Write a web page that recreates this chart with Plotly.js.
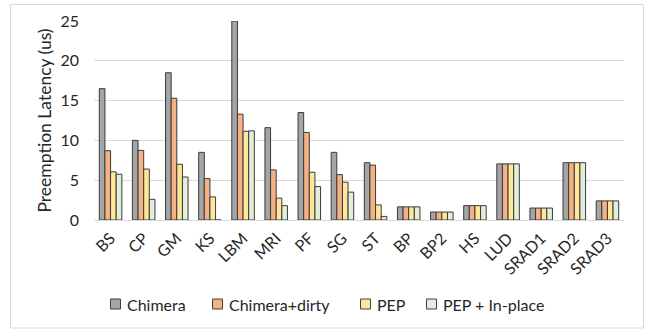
<!DOCTYPE html>
<html>
<head>
<meta charset="utf-8">
<script src="https://cdn.plot.ly/plotly-3.0.1.min.js"></script>
<style>
html,body{margin:0;padding:0;background:#fff;}
#chart{width:647px;height:331px;}
</style>
</head>
<body>
<div id="chart"></div>
<script>
const categories = ["BS","CP","GM","KS","LBM","MRI","PF","SG","ST","BP","BP2","HS","LUD","SRAD1","SRAD2","SRAD3"];
const chimera      = [16.5, 10.0, 18.5, 8.5, 25.0, 11.6, 13.5, 8.5, 7.2, 1.65, 1.0, 1.8, 7.05, 1.5, 7.2, 2.4];
const chimeraDirty = [8.7, 8.75, 15.3, 5.2, 13.3, 6.3, 11.0, 5.7, 6.9, 1.65, 1.0, 1.8, 7.05, 1.5, 7.2, 2.4];
const pep          = [6.05, 6.4, 7.0, 2.9, 11.15, 2.75, 6.0, 4.75, 1.9, 1.65, 1.0, 1.8, 7.05, 1.5, 7.2, 2.4];
const pepInPlace   = [5.75, 2.6, 5.4, 0, 11.2, 1.8, 4.2, 3.5, 0.45, 1.65, 1.0, 1.8, 7.05, 1.5, 7.2, 2.4];
const seriesNames  = ["Chimera","Chimera+dirty","PEP","PEP + In-place"];
const yTicks       = [0,5,10,15,20,25];

const colors = ["#A5A5A5","#F4B183","#FFE699","#E2F0D9"];
const seriesVals = [chimera, chimeraDirty, pep, pepInPlace];
const FONT = "Lato, 'Open Sans', sans-serif";
const TXT = "#262626";

// plot-area geometry (pixels) used to place the frame and legend in paper coords
const W = 647, H = 331, ML = 94, MR = 23, MT = 21, MB = 111;
const PW = W - ML - MR, PH = H - MT - MB;
const px2x = p => (p - ML) / PW;
const py2y = p => (H - MB - p) / PH;

const traces = seriesVals.map((vals, i) => ({
  type: "bar",
  name: seriesNames[i],
  x: categories,
  y: vals,
  marker: {color: colors[i], line: {color: "#3a3a3a", width: 1}},
  showlegend: false
}));

const shapes = [{
  type: "rect", xref: "paper", yref: "paper",
  x0: px2x(10.5), x1: px2x(643.5), y0: py2y(328), y1: py2y(4.5),
  line: {color: "#D9D9D9", width: 1}, fillcolor: "rgba(0,0,0,0)", layer: "below"
}];
const annotations = [];

// legend: small outlined squares followed by labels
const legendLeftPx = [110.5, 212.5, 360.5, 426.5];
const legendCyPx = 304, sq = 10;
seriesNames.forEach((n, i) => {
  const l = legendLeftPx[i];
  shapes.push({
    type: "rect", xref: "paper", yref: "paper",
    x0: px2x(l), x1: px2x(l + sq), y0: py2y(legendCyPx + sq / 2), y1: py2y(legendCyPx - sq / 2),
    line: {color: "#404040", width: 1}, fillcolor: colors[i]
  });
  annotations.push({
    xref: "paper", yref: "paper", x: px2x(l + sq + 4), y: py2y(legendCyPx),
    xanchor: "left", yanchor: "middle", showarrow: false,
    text: n, font: {family: FONT, size: 16, color: TXT}
  });
});

const layout = {
  width: W, height: H,
  margin: {l: ML, r: MR, t: MT, b: MB},
  paper_bgcolor: "#fff", plot_bgcolor: "#fff",
  font: {family: FONT, size: 16, color: TXT},
  barmode: "group",
  bargap: 0.32,
  bargroupgap: 0,
  showlegend: false,
  xaxis: {
    type: "category",
    tickangle: -45,
    tickfont: {family: FONT, size: 16, color: TXT},
    ticklabelstandoff: 5,
    showgrid: false,
    showline: false,
    zeroline: false,
    ticks: "",
    fixedrange: true
  },
  yaxis: {
    range: [0, 25],
    tickvals: yTicks,
    ticktext: yTicks.map(String),
    tickfont: {family: FONT, size: 16, color: TXT},
    showgrid: true,
    gridcolor: "#D9D9D9",
    gridwidth: 1,
    zeroline: true,
    zerolinecolor: "#D9D9D9",
    zerolinewidth: 1,
    showline: false,
    ticks: "",
    ticklabelstandoff: 14,
    title: {text: "Preemption Latency (us)", font: {family: FONT, size: 17.5, color: TXT}, standoff: 4},
    fixedrange: true
  },
  shapes: shapes,
  annotations: annotations
};

Plotly.newPlot("chart", traces, layout, {displayModeBar: false, staticPlot: true});
</script>
</body>
</html>
